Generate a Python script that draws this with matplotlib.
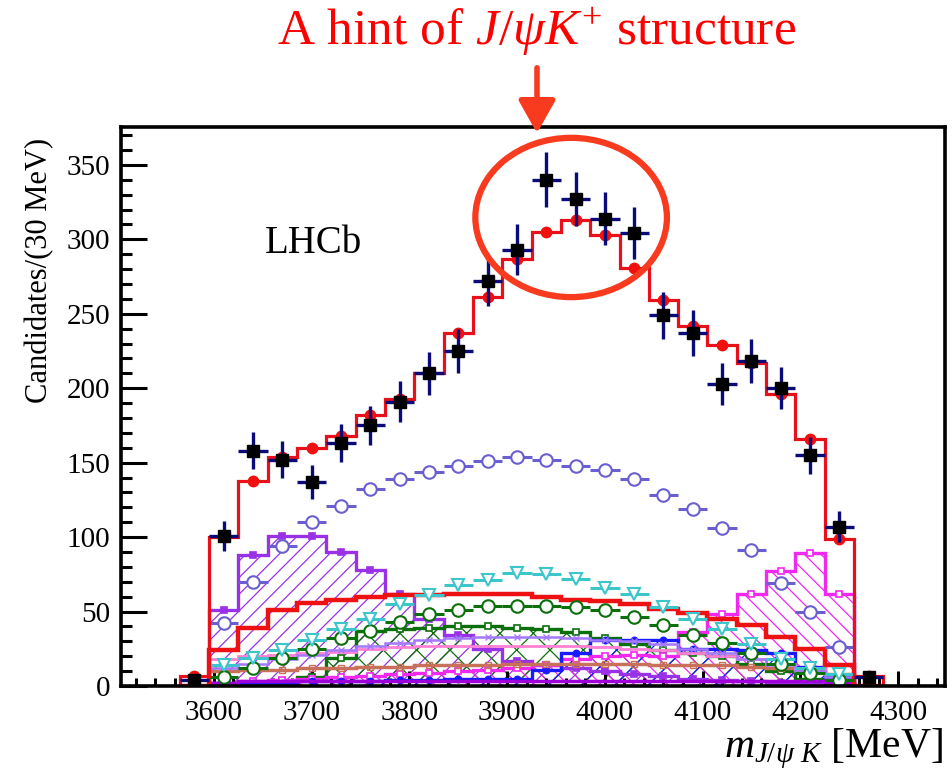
import numpy as np
import matplotlib
matplotlib.use("Agg")
import matplotlib.pyplot as plt
from matplotlib.patches import Ellipse, FancyArrowPatch
from matplotlib.ticker import MultipleLocator

plt.rcParams['font.family'] = ['Liberation Serif', 'DejaVu Serif']
plt.rcParams['mathtext.fontset'] = 'custom'
plt.rcParams['mathtext.rm'] = 'Liberation Serif'
plt.rcParams['mathtext.it'] = 'Liberation Serif:italic'
plt.rcParams['hatch.linewidth'] = 0.9

# 30 MeV bins in m(J/psi K)
bin_edges = [3565, 3595, 3625, 3655, 3685, 3715, 3745, 3775, 3805, 3835,
             3865, 3895, 3925, 3955, 3985, 4015, 4045, 4075, 4105, 4135,
             4165, 4195, 4225, 4255, 4285]
nan = np.nan

data_counts = [4, 101, 158, 152, 137, 163, 175, 191, 210, 225, 272, 293,
               340, 327, 314, 304, 249, 237, 203, 218, 200, 155, 107, 6]
fit_total = [7, 100, 138, 154, 160, 168, 182, 193, 210, 237, 261, 287,
             305, 313, 303, 281, 259, 242, 229, 217, 196, 166, 99, 7]
phase_space = [nan, 42, 70, 94, 110, 121, 132, 139, 144, 148, 151, 154,
               152, 148, 145, 139, 128, 119, 106, 91, 69, 50, 26, nan]
purple_hist = [0, 51, 88, 101, 101, 90, 78, 62, 45, 34, 25, 17,
               14, 12, 10, 8, 7, 5, 4, 3, 2, 1, 1, 0]
red_hist = [0, 24, 39, 51, 56, 58, 60, 61, 61, 62, 62, 62,
            60, 58, 57, 55, 52, 49, 45, 41, 33, 25, 14, 0]
cyan_points = [nan, 14, 19, 24, 31, 38, 45, 55, 61, 68, 71, 76,
               75, 72, 66, 62, 53, 45, 38, 28, 18, 12, 8, nan]
green_points = [nan, 6, 12, 19, 25, 32, 37, 43, 48, 51, 54, 54,
                54, 53, 51, 46, 41, 34, 29, 22, 15, 9, 4, nan]
green_hist = [0, 1, 2, 3, 6, 19, 37, 38, 39, 40, 40, 39,
              38, 36, 32, 28, 24, 22, 20, 15, 10, 5, 2, 0]
magenta_hist = [0, 2, 3, 4, 5, 6, 7, 8, 9, 10, 11, 12,
                14, 18, 20, 21, 20, 36, 48, 62, 77, 89, 62, 0]
blue_hist = [0, 2, 2, 2, 3, 3, 3, 4, 4, 5, 5, 5,
             11, 22, 31, 31, 31, 25, 25, 24, 22, 13, 6, 0]
pink_line = [0, 18, 20, 21, 22, 23, 25, 26, 27, 27, 27, 27,
             27, 27, 26, 25, 24, 22, 20, 18, 15, 12, 8, 0]
brown_line = [0, 10, 11, 11, 12, 12, 13, 13, 14, 14, 14, 15,
              15, 15, 15, 15, 14, 14, 14, 13, 12, 11, 8, 0]
violet_line = [0, 12, 15, 18, 21, 24, 27, 29, 31, 32, 33, 33,
               33, 32, 31, 30, 28, 25, 22, 18, 14, 10, 6, 0]
low_band = [0, 2, 3, 3, 3, 3, 3, 3, 3, 3, 3, 3,
            3, 3, 3, 3, 3, 3, 3, 3, 3, 3, 2, 0]

edges = np.array(bin_edges, dtype=float)
centers = 0.5 * (edges[:-1] + edges[1:])
half_w = 0.5 * (edges[1] - edges[0])

fig = plt.figure(figsize=(9.53, 7.69), dpi=100)
ax = fig.add_axes([0.127, 0.108, 0.8646, 0.7269])

# hatched component histograms
def hatched(values, color, hatch, marker, mfc):
    v = np.array(values, dtype=float)
    ax.stairs(v, edges, baseline=0, fill=True, facecolor='none',
              edgecolor=color, hatch=hatch, linewidth=0, zorder=1)
    ax.stairs(v, edges, baseline=0, color=color, linewidth=2.4, zorder=2)
    m = v > 0
    ax.plot(centers[m], v[m], ls='none', marker=marker, ms=4.5,
            mfc=mfc if mfc else color, mec=color, mew=1.2, zorder=2)

hatched(purple_hist, '#9932e6', '//', 's', None)
hatched(green_hist, '#0b700b', 'x', 's', 'white')
hatched(magenta_hist, '#f028f0', '\\\\', 's', 'white')
hatched(blue_hist, '#1a1aff', '/', 'o', None)

# smaller components drawn as lines
ax.stairs(low_band, edges, baseline=0, color='#a000d8', linewidth=2.5, zorder=2)
ax.stairs(brown_line, edges, baseline=None, color='#c8705a', linewidth=2.5, zorder=2)
ax.plot(centers, brown_line, ls='none', marker='s', ms=4, mfc='none',
        mec='#c8705a', zorder=2)
ax.stairs(pink_line, edges, baseline=None, color='#ff80d4', linewidth=2.0, zorder=2)
ax.stairs(violet_line, edges, baseline=None, color='#a478ff', linewidth=1.8, zorder=2)
ax.plot(centers, violet_line, ls='none', marker='x', ms=4,
        mec='#a478ff', zorder=2)

# thick red component
ax.stairs(red_hist, edges, baseline=None, color='#ee1111', linewidth=3.2, zorder=3)

# point-like components with bin-width bars
ax.errorbar(centers, green_points, xerr=half_w, fmt='o', ms=9, mfc='white',
            mec='#0b700b', mew=1.5, ecolor='#0b700b', elinewidth=2.2, zorder=3)
ax.errorbar(centers, cyan_points, xerr=half_w, fmt='v', ms=9, mfc='white',
            mec='#3cc6cc', mew=1.5, ecolor='#3cc6cc', elinewidth=2.2, zorder=3)
ax.errorbar(centers, phase_space, xerr=half_w, fmt='o', ms=9, mfc='white',
            mec='#6a5fd0', mew=1.5, ecolor='#6a5fd0', elinewidth=2.2, zorder=3)

# total fit
ax.stairs(fit_total, edges, baseline=0, color='#e8101a', linewidth=2.3, zorder=4)
ax.plot(centers, fit_total, ls='none', marker='o', ms=7.5, color='#f01010', zorder=4)

# data
d = np.array(data_counts, dtype=float)
ax.errorbar(centers, d, xerr=half_w, yerr=np.sqrt(d), fmt='s', ms=8,
            mfc='black', mec='black', ecolor='#0a0a78', elinewidth=2.4,
            capsize=0, zorder=5)

ax.set_xlim(3505, 4348)
ax.set_ylim(0, 375.5)
ax.xaxis.set_major_locator(MultipleLocator(100))
ax.xaxis.set_minor_locator(MultipleLocator(20))
ax.yaxis.set_major_locator(MultipleLocator(50))
ax.yaxis.set_minor_locator(MultipleLocator(10))
ax.tick_params(axis='both', which='both', direction='in', width=2.2,
               top=False, right=False, labelsize=21, colors='black')
ax.tick_params(axis='y', which='major', length=18.5, pad=8)
ax.tick_params(axis='y', which='minor', length=8)
ax.tick_params(axis='x', which='major', length=11, pad=10)
ax.tick_params(axis='x', which='minor', length=6)
for s in ax.spines.values():
    s.set_linewidth(2.6)
    s.set_zorder(6)

ax.text(3652, 291, 'LHCb', fontsize=28, ha='left', va='baseline')

fig.text(40 / 953, 1 - 270 / 769, 'Candidates/(30 MeV)', rotation=90,
         ha='center', va='center', fontsize=22)
fig.text(943 / 953, 1 - 757 / 769, r'$m_{J/\psi\ K}$ [MeV]',
         ha='right', va='baseline', fontsize=30)

# highlight of the excess
ax.add_patch(Ellipse((3965.5, 314.7), width=196, height=107, fill=False,
                     edgecolor='#f83a1e', linewidth=4.5, zorder=7,
                     clip_on=False))
fig.patches.append(FancyArrowPatch((537 / 953, 1 - 65 / 769),
                                   (537 / 953, 1 - 136 / 769),
                                   transform=fig.transFigure,
                                   arrowstyle='-|>,head_length=0.8,head_width=0.45',
                                   mutation_scale=25, color='#f83a1e',
                                   linewidth=4, figure=fig))
fig.text(537 / 953, 1 - 45 / 769, r'A hint of $J/\psi K^{+}$ structure',
         ha='center', va='baseline', color='red', fontsize=37)

fig.savefig('out.png', dpi=100)
